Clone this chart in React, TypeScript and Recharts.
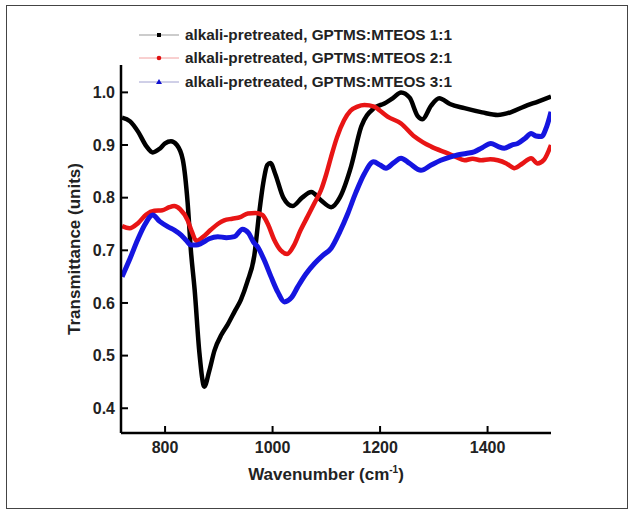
import React from "react";
import { LineChart, Line, XAxis, YAxis } from "recharts";

// wavenumber (cm-1) / transmittance
const wnA = [720, 735, 750, 765, 777, 790, 800, 811, 822, 833, 842, 848, 855, 864, 873, 882, 892, 905, 917, 930, 941, 953, 966, 975, 983, 990, 996, 1005, 1020, 1037, 1055, 1072, 1090, 1109, 1125, 1146, 1165, 1189, 1208, 1225, 1239, 1255, 1270, 1279, 1295, 1310, 1330, 1357, 1390, 1419, 1445, 1468, 1495, 1518];
const tA = [0.952, 0.945, 0.925, 0.898, 0.886, 0.893, 0.903, 0.907, 0.9, 0.872, 0.79, 0.7, 0.625, 0.504, 0.441, 0.47, 0.51, 0.54, 0.56, 0.585, 0.606, 0.64, 0.69, 0.77, 0.83, 0.862, 0.866, 0.845, 0.8, 0.784, 0.8, 0.811, 0.795, 0.782, 0.8, 0.859, 0.935, 0.97, 0.979, 0.99, 1.0, 0.99, 0.955, 0.949, 0.975, 0.989, 0.978, 0.97, 0.962, 0.957, 0.963, 0.973, 0.983, 0.992];

const wnB = [720, 734, 750, 765, 780, 795, 808, 817, 828, 842, 850, 858, 870, 885, 898, 910, 925, 940, 954, 968, 981, 992, 1003, 1015, 1027, 1040, 1052, 1065, 1078, 1090, 1100, 1109, 1120, 1133, 1145, 1158, 1171, 1189, 1200, 1214, 1239, 1264, 1280, 1295, 1326, 1340, 1357, 1372, 1388, 1405, 1419, 1435, 1450, 1465, 1481, 1493, 1505, 1518];
const tB = [0.746, 0.742, 0.752, 0.768, 0.775, 0.776, 0.782, 0.784, 0.778, 0.757, 0.735, 0.718, 0.725, 0.739, 0.75, 0.757, 0.76, 0.763, 0.77, 0.771, 0.767, 0.748, 0.72, 0.7, 0.693, 0.71, 0.738, 0.764, 0.79, 0.814, 0.845, 0.878, 0.915, 0.947, 0.965, 0.973, 0.976, 0.973, 0.965, 0.954, 0.941, 0.916, 0.905, 0.897, 0.884, 0.878, 0.871, 0.874, 0.871, 0.873, 0.871, 0.865, 0.856, 0.865, 0.875, 0.865, 0.872, 0.9];

const wnC = [720, 735, 749, 762, 777, 790, 805, 818, 830, 840, 848, 858, 867, 882, 898, 914, 929, 944, 955, 965, 972, 985, 997, 1010, 1022, 1035, 1047, 1062, 1078, 1093, 1109, 1125, 1140, 1155, 1171, 1188, 1200, 1211, 1225, 1239, 1255, 1276, 1295, 1313, 1330, 1344, 1360, 1375, 1390, 1406, 1420, 1431, 1445, 1456, 1470, 1481, 1490, 1500, 1510, 1518];
const tC = [0.65, 0.685, 0.72, 0.748, 0.767, 0.755, 0.745, 0.738, 0.729, 0.718, 0.71, 0.71, 0.713, 0.722, 0.726, 0.724, 0.726, 0.74, 0.733, 0.715, 0.707, 0.68, 0.65, 0.62, 0.602, 0.61, 0.631, 0.655, 0.675, 0.69, 0.704, 0.735, 0.77, 0.81, 0.846, 0.868, 0.862, 0.856, 0.866, 0.875, 0.865, 0.852, 0.862, 0.871, 0.877, 0.881, 0.884, 0.887, 0.895, 0.903, 0.897, 0.894, 0.9, 0.903, 0.913, 0.922, 0.917, 0.916, 0.935, 0.963];

const xTicks = [800, 1000, 1200, 1400];
const yTicks = [0.4, 0.5, 0.6, 0.7, 0.8, 0.9, 1.0];

const seriesNames = [
  "alkali-pretreated, GPTMS:MTEOS 1:1",
  "alkali-pretreated, GPTMS:MTEOS 2:1",
  "alkali-pretreated, GPTMS:MTEOS 3:1",
];

const zip = (xs: number[], ys: number[]) => xs.map((x, i) => ({ x, y: ys[i] }));

const FONT = "'Liberation Sans', Arial, sans-serif";

function XLabel({ viewBox }: any) {
  const cx = viewBox.x + viewBox.width / 2 - 10;
  return (
    <text x={cx} y={viewBox.y + 47} textAnchor="middle" fontSize={17} fontWeight="bold" fill="#222" fontFamily={FONT}>
      Wavenumber (cm
      <tspan dy={-7} fontSize={10}>-1</tspan>
      <tspan dy={7}>)</tspan>
    </text>
  );
}

function YLabel({ viewBox }: any) {
  const cy = viewBox.y + viewBox.height / 2;
  const cx = 74;
  return (
    <text x={cx} y={cy} transform={`rotate(-90 ${cx} ${cy})`} textAnchor="middle" dominantBaseline="central" fontSize={17} fontWeight="bold" fill="#222" fontFamily={FONT}>
      Transmittance (units)
    </text>
  );
}

function Marker({ kind, color }: { kind: string; color: string }) {
  if (kind === "square") return <rect x={18} y={4} width={4} height={4} fill={color} />;
  if (kind === "circle") return <circle cx={20} cy={6} r={2.3} fill={color} />;
  return <polygon points="20,3 23,8 17,8" fill={color} />;
}

const legendItems = [
  { name: seriesNames[0], line: "#999", color: "#000", kind: "square" },
  { name: seriesNames[1], line: "#f2a0a0", color: "#e01010", kind: "circle" },
  { name: seriesNames[2], line: "#a0a0d0", color: "#1010d0", kind: "triangle" },
];

export default function App() {
  return (
    <div style={{ position: "absolute", left: 0, top: 0, width: 633, height: 515, background: "#fff", fontFamily: FONT }}>
      <div style={{ position: "absolute", left: 6, top: 5, width: 620, height: 502, border: "1.5px solid #444" }} />
      <div style={{ position: "absolute", left: 139, top: 23 }}>
        {legendItems.map((it) => (
          <div key={it.name} style={{ display: "flex", alignItems: "center", height: 23.5 }}>
            <svg width={40} height={12}>
              <line x1={0} y1={6} x2={40} y2={6} stroke={it.line} strokeWidth={1} />
              <Marker kind={it.kind} color={it.color} />
            </svg>
            <span style={{ marginLeft: 6, fontSize: 15.3, fontWeight: "bold", color: "#222", whiteSpace: "nowrap" }}>{it.name}</span>
          </div>
        ))}
      </div>
      <div style={{ position: "absolute", left: 0, top: 0 }}>
        <LineChart width={633} height={515} margin={{ top: 65, right: 82, bottom: 52, left: 61 }}>
          <XAxis
            type="number"
            dataKey="x"
            domain={[718, 1518]}
            ticks={xTicks}
            allowDataOverflow
            height={30}
            tickSize={-7}
            tickMargin={16}
            axisLine={{ stroke: "#000", strokeWidth: 2.5 }}
            tickLine={{ stroke: "#000", strokeWidth: 2 }}
            tick={{ fill: "#222", fontSize: 16, fontWeight: "bold", fontFamily: FONT }}
            label={<XLabel />}
          />
          <YAxis
            type="number"
            dataKey="y"
            domain={[0.353, 1.052]}
            ticks={yTicks}
            allowDataOverflow
            width={60}
            tickSize={-7}
            tickMargin={13}
            tickFormatter={(v: number) => v.toFixed(1)}
            axisLine={{ stroke: "#000", strokeWidth: 2.5 }}
            tickLine={{ stroke: "#000", strokeWidth: 2 }}
            tick={{ fill: "#222", fontSize: 16, fontWeight: "bold", fontFamily: FONT }}
            label={<YLabel />}
          />
          <Line data={zip(wnA, tA)} dataKey="y" name={seriesNames[0]} type="monotone" stroke="#000" strokeWidth={4.5} dot={false} isAnimationActive={false} />
          <Line data={zip(wnB, tB)} dataKey="y" name={seriesNames[1]} type="monotone" stroke="#e81515" strokeWidth={4.5} dot={false} isAnimationActive={false} />
          <Line data={zip(wnC, tC)} dataKey="y" name={seriesNames[2]} type="monotone" stroke="#1515e0" strokeWidth={5} dot={false} isAnimationActive={false} />
        </LineChart>
      </div>
    </div>
  );
}
